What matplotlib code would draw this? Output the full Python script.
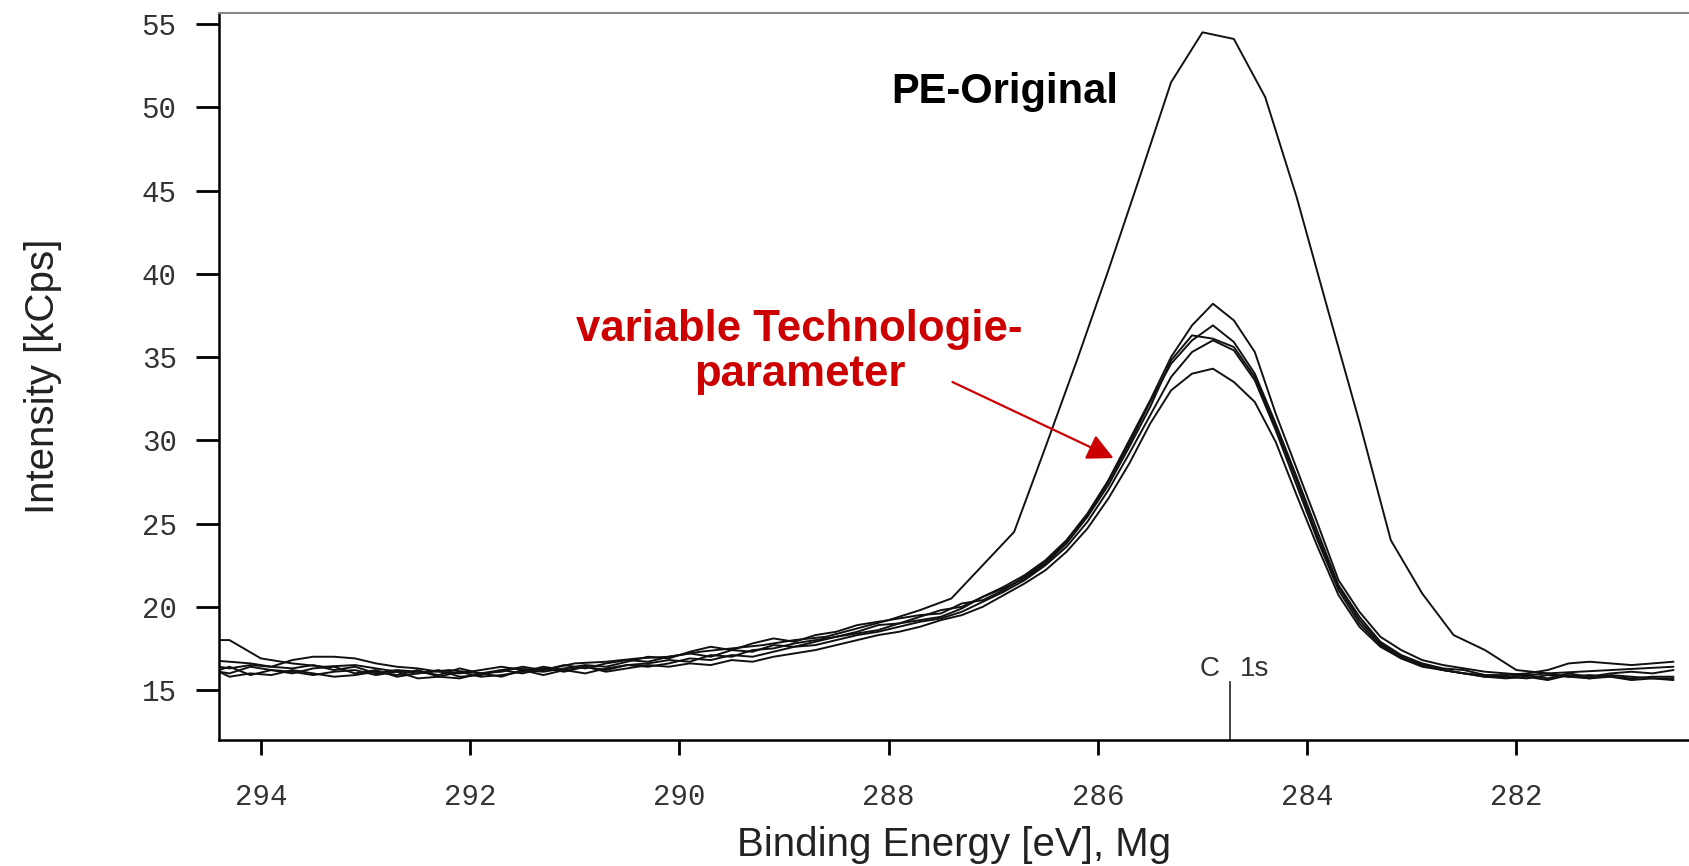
import matplotlib
matplotlib.use("Agg")
import matplotlib.pyplot as plt

# Energieachse (eV) der fuenf Proben mit variablen Technologieparametern
energy = [294.5, 294.3, 294.1, 293.9, 293.7, 293.5, 293.3, 293.1, 292.9, 292.7,
          292.5, 292.3, 292.1, 291.9, 291.7, 291.5, 291.3, 291.1, 290.9, 290.7,
          290.5, 290.3, 290.1, 289.9, 289.7, 289.5, 289.3, 289.1, 288.9, 288.7,
          288.5, 288.3, 288.1, 287.9, 287.7, 287.5, 287.3, 287.1, 286.9, 286.7,
          286.5, 286.3, 286.1, 285.9, 285.7, 285.5, 285.3, 285.1, 284.9, 284.7,
          284.5, 284.3, 284.1, 283.9, 283.7, 283.5, 283.3, 283.1, 282.9, 282.7,
          282.5, 282.3, 282.1, 281.9, 281.7, 281.5, 281.3, 281.1, 280.9, 280.7,
          280.5]

var_a = [16.8, 16.7, 16.6, 16.4, 16.3, 16.5, 16.2, 16.4, 16.0, 16.2,
         16.1, 15.9, 16.3, 16.0, 16.1, 16.4, 16.2, 16.5, 16.3, 16.6,
         16.8, 16.7, 17.0, 17.2, 17.0, 17.4, 17.3, 17.7, 17.6, 17.9,
         18.2, 18.4, 18.6, 19.0, 19.4, 19.8, 20.0, 20.6, 21.2, 21.9,
         22.8, 24.0, 25.6, 27.6, 30.0, 32.4, 35.0, 36.9, 38.2, 37.2,
         35.3, 31.6, 28.3, 25.0, 21.6, 19.7, 18.2, 17.4, 16.8, 16.5,
         16.3, 16.1, 16.0, 15.9, 16.0, 15.8, 15.9, 15.8, 15.7, 15.8,
         15.8]

var_b = [16.5, 16.3, 16.5, 16.4, 16.8, 17.0, 17.0, 16.9, 16.6, 16.4,
         16.3, 16.1, 16.0, 16.2, 16.4, 16.2, 16.1, 16.3, 16.5, 16.4,
         16.7, 17.0, 16.9, 17.3, 17.6, 17.4, 17.8, 18.1, 17.9, 18.3,
         18.5, 18.9, 19.1, 19.3, 19.5, 19.6, 20.2, 20.4, 21.0, 21.8,
         22.7, 23.9, 25.5, 27.5, 29.8, 32.3, 34.6, 36.0, 36.9, 35.9,
         34.0, 31.0, 27.8, 24.5, 21.3, 19.4, 17.9, 17.1, 16.6, 16.3,
         16.2, 15.9, 15.9, 16.0, 16.2, 16.6, 16.7, 16.6, 16.5, 16.6,
         16.7]

var_c = [16.2, 16.0, 16.4, 16.2, 16.0, 16.3, 16.4, 16.0, 16.2, 15.8,
         16.0, 16.2, 15.8, 15.9, 16.2, 16.0, 16.3, 16.1, 16.4, 16.2,
         16.5, 16.6, 16.8, 16.7, 17.1, 17.0, 17.4, 17.5, 17.8, 18.0,
         18.2, 18.5, 18.9, 19.0, 19.2, 19.4, 19.9, 20.6, 21.1, 21.7,
         22.6, 23.8, 25.4, 27.3, 29.6, 32.0, 34.8, 36.3, 36.1, 35.6,
         33.8, 30.8, 27.6, 24.2, 21.2, 19.2, 17.8, 17.0, 16.5, 16.2,
         16.0, 15.9, 15.8, 15.7, 15.9, 15.8, 15.7, 15.9, 15.8, 15.7,
         15.7]

var_d = [16.4, 15.8, 16.0, 15.9, 16.2, 16.0, 15.8, 15.9, 16.1, 15.9,
         16.2, 15.8, 15.7, 16.0, 15.8, 16.2, 15.9, 16.2, 16.4, 16.1,
         16.3, 16.5, 16.4, 16.6, 16.5, 16.8, 16.7, 17.0, 17.2, 17.4,
         17.7, 18.0, 18.3, 18.5, 18.8, 19.2, 19.5, 20.0, 20.7, 21.4,
         22.2, 23.3, 24.7, 26.5, 28.6, 31.0, 33.0, 34.0, 34.3, 33.5,
         32.3, 29.9, 26.7, 23.6, 20.7, 18.8, 17.6, 16.9, 16.4, 16.2,
         16.0, 15.8, 15.7, 15.8, 15.6, 15.9, 15.7, 15.8, 15.6, 15.7,
         15.6]

var_e = [16.0, 16.4, 15.9, 16.2, 16.1, 15.9, 16.1, 16.2, 15.9, 16.1,
         15.7, 15.8, 16.1, 15.8, 15.9, 16.1, 16.4, 16.2, 16.0, 16.3,
         16.5, 16.4, 16.6, 16.9, 16.8, 17.1, 17.0, 17.3, 17.6, 17.7,
         18.0, 18.3, 18.5, 18.8, 19.1, 19.3, 19.7, 20.3, 20.9, 21.6,
         22.5, 23.6, 25.1, 27.0, 29.2, 31.5, 33.8, 35.3, 36.0, 35.4,
         33.6, 30.6, 27.3, 24.0, 21.0, 19.0, 17.7, 16.9, 16.5, 16.2,
         16.0, 15.8, 15.8, 15.9, 15.7, 16.0, 15.8, 16.0, 16.1, 16.0,
         16.2]

# Originalprobe (PE), groebere Schrittweite
energy_pe = [294.6, 294.3, 294.0, 293.7, 293.4, 293.1, 292.8, 292.5, 292.2, 291.9,
             291.6, 291.3, 291.0, 290.7, 290.4, 290.1, 289.8, 289.5, 289.2, 288.9,
             288.6, 288.3, 288.0, 287.7, 287.4, 287.1, 286.8, 286.5, 286.2, 285.9,
             285.6, 285.3, 285.0, 284.7, 284.4, 284.1, 283.8, 283.5, 283.2, 282.9,
             282.6, 282.3, 282.0, 281.7, 281.4, 281.1, 280.8, 280.5]
pe_original = [18.0, 18.0, 16.9, 16.6, 16.4, 16.5, 16.2, 16.0, 16.2, 16.0,
               16.3, 16.2, 16.6, 16.7, 16.9, 17.0, 17.3, 17.5, 17.7, 18.0,
               18.2, 18.7, 19.2, 19.8, 20.5, 22.5, 24.5, 29.6, 34.8, 40.2,
               45.8, 51.5, 54.5, 54.1, 50.6, 44.6, 37.8, 31.1, 24.0, 20.8,
               18.3, 17.4, 16.2, 16.0, 16.1, 16.2, 16.3, 16.4]

xticks = [294, 292, 290, 288, 286, 284, 282]
yticks = [15, 20, 25, 30, 35, 40, 45, 50, 55]
c1s_pos = 284.74

fig = plt.figure(figsize=(16.89, 8.66), dpi=100)
ax = fig.add_axes([219 / 1689, 1 - 740 / 866, 1470 / 1689, 727 / 866])

for serie in [var_a, var_b, var_c, var_d, var_e]:
    ax.plot(energy, serie, color='#111111', lw=1.4)
ax.plot(energy_pe, pe_original, color='#111111', lw=1.4)

ax.set_xlim(294.4, 280.35)
ax.set_ylim(12.0, 55.66)
ax.set_xticks(xticks)
ax.set_yticks(yticks)
ax.set_xticklabels([str(t) for t in xticks])
ax.set_yticklabels([str(t) for t in yticks])

for lab in ax.get_xticklabels() + ax.get_yticklabels():
    lab.set_family('Liberation Mono')
    lab.set_fontsize(21)
    lab.set_color('#333333')
ax.tick_params(axis='y', direction='out', length=16.5, width=2, pad=14)
ax.tick_params(axis='x', direction='out', length=11, width=2, pad=20)

ax.spines['right'].set_visible(False)
ax.spines['top'].set_color('#888888')
ax.spines['top'].set_linewidth(1.5)
ax.spines['left'].set_linewidth(1.8)
ax.spines['bottom'].set_linewidth(1.8)

ax.set_xlabel('Binding Energy [eV], Mg', family='Liberation Sans', fontsize=29,
              color='#222222', va='center')
ax.xaxis.set_label_coords(0.5, -0.1444)
ax.set_ylabel('Intensity [kCps]', family='Liberation Sans', fontsize=29,
              color='#222222', va='center')
ax.yaxis.set_label_coords(-0.1197, 0.5)

# Beschriftungen
ax.text(286.89, 50.9, 'PE-Original', ha='center', va='center',
        family='Liberation Sans', fontweight='bold', fontsize=30, color='black')
ax.text(288.85, 35.3, 'variable Technologie-\nparameter', ha='center', va='center',
        family='Liberation Sans', fontweight='bold', fontsize=31.5, color='#CC0000',
        linespacing=1.15)
ax.annotate('', xy=(285.85, 28.93), xytext=(287.39, 33.5),
            arrowprops=dict(arrowstyle='-|>,head_length=0.8,head_width=0.4',
                            color='#CC0000', lw=1.6, mutation_scale=20,
                            shrinkA=0, shrinkB=0))

# C 1s Markierung
ax.plot([c1s_pos, c1s_pos], [12.0, 15.5], color='#222222', lw=1.2, clip_on=False)
ax.annotate('C', xy=(c1s_pos, 16.25), xytext=(-7, 0), textcoords='offset points',
            ha='right', va='center', family='Liberation Sans', fontsize=20,
            color='#333333')
ax.annotate('1s', xy=(c1s_pos, 16.25), xytext=(7, 0), textcoords='offset points',
            ha='left', va='center', family='Liberation Sans', fontsize=20,
            color='#333333')

fig.savefig('out.png', dpi=100)
